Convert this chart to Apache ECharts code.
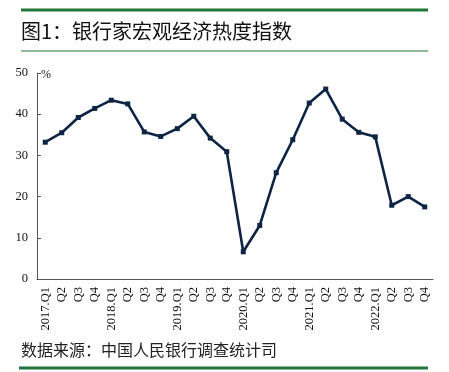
<!DOCTYPE html>
<html><head><meta charset="utf-8">
<script src="https://cdn.jsdelivr.net/npm/echarts@6/dist/echarts.min.js"></script>
<style>html,body{margin:0;padding:0;background:#fff}#c{width:449px;height:372px}</style>
</head><body><div id="c"></div>
<script>
const categories = ['2017.Q1','Q2','Q3','Q4','2018.Q1','Q2','Q3','Q4','2019.Q1','Q2','Q3','Q4','2020.Q1','Q2','Q3','Q4','2021.Q1','Q2','Q3','Q4','2022.Q1','Q2','Q3','Q4'];
const values = [33.2,35.5,39.2,41.4,43.4,42.5,35.7,34.6,36.5,39.5,34.2,30.9,6.6,13.0,25.8,33.8,42.7,46.1,38.8,35.6,34.5,17.9,20.0,17.5];
const yTicks = [0,10,20,30,40,50];
const titleText = '图1：银行家宏观经济热度指数';
const sourceText = '数据来源：中国人民银行调查统计司';
const unitText = '%';

const green = '#23763a';
const chart = echarts.init(document.getElementById('c'), null, {renderer:'canvas'});
chart.setOption({
  animation:false,
  backgroundColor:'#fff',
  grid:{left:37,right:16,top:73,bottom:93},
  xAxis:{
    type:'category',data:categories,boundaryGap:true,
    axisLine:{lineStyle:{color:'#555',width:1}},
    axisTick:{inside:true,length:4,lineStyle:{color:'#555'},alignWithLabel:false},
    axisLabel:{rotate:90,color:'#111',fontFamily:'Liberation Serif',fontSize:12.5,margin:8,interval:0}
  },
  yAxis:{
    type:'value',min:yTicks[0],max:yTicks[yTicks.length-1],interval:10,
    axisLine:{show:true,lineStyle:{color:'#555',width:1}},
    axisTick:{show:true,inside:true,length:4,lineStyle:{color:'#555'}},
    splitLine:{show:false},
    axisLabel:{color:'#111',fontFamily:'Liberation Serif',fontSize:12.5,margin:9}
  },
  series:[{
    type:'line',data:values,
    lineStyle:{color:'#0d2442',width:2.6},
    itemStyle:{color:'#0d2442'},
    symbol:'rect',symbolSize:5,showSymbol:true
  }],
  graphic:[
    {type:'rect',shape:{x:21,y:8.5,width:407,height:3},style:{fill:green}},
    {type:'text',left:21,top:21,style:{text:titleText,font:'20px "Noto Sans CJK SC"',fill:'#111'}},
    {type:'rect',shape:{x:21,y:50.5,width:407,height:1},style:{fill:green}},
    {type:'text',left:41,top:69,style:{text:unitText,font:'12px "Liberation Serif"',fill:'#111'}},
    {type:'text',left:21,top:342,style:{text:sourceText,font:'16px "Noto Sans CJK SC"',fill:'#222'}},
    {type:'rect',shape:{x:19,y:366.5,width:409,height:3},style:{fill:green}}
  ]
});
</script></body></html>
